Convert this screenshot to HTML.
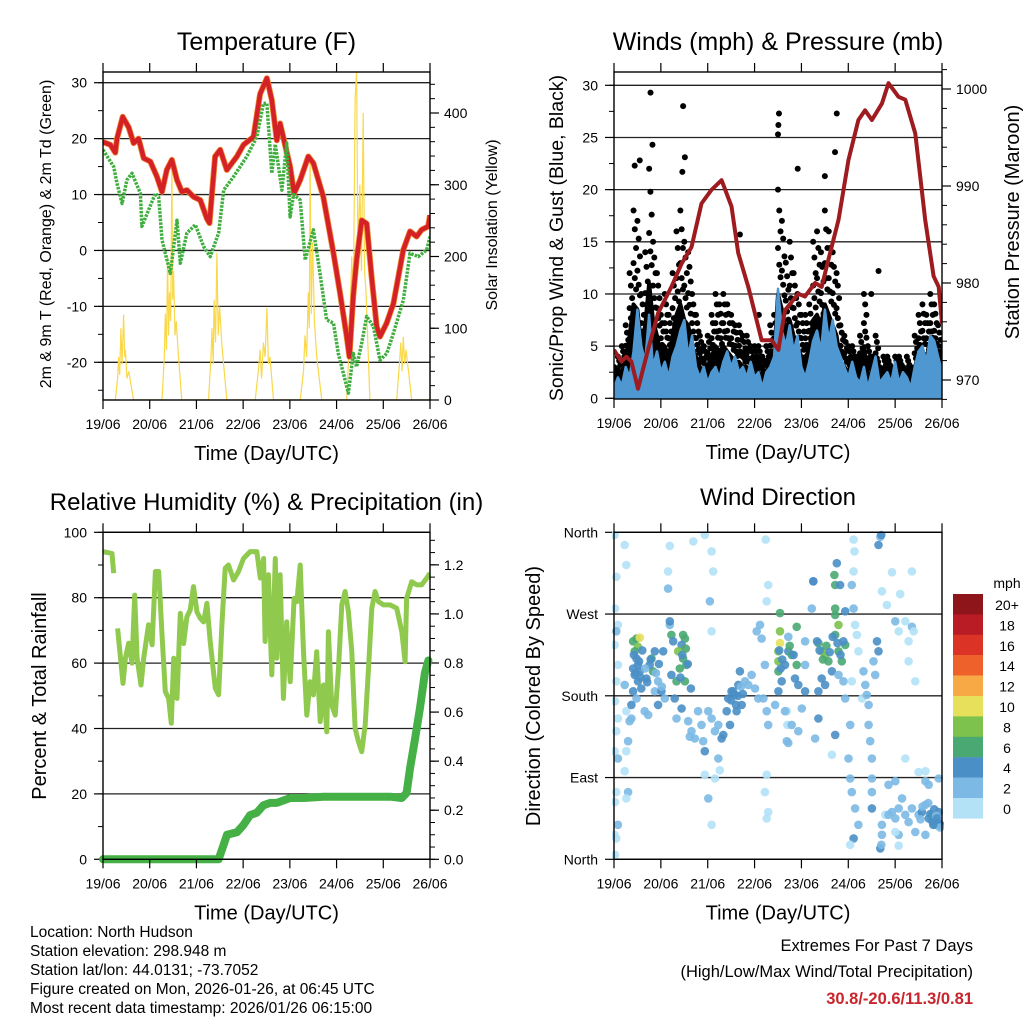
<!DOCTYPE html>
<html><head><meta charset="utf-8"><title>Station Meteogram</title>
<style>
html,body{margin:0;padding:0;background:#fff;}
svg{display:block;font-family:"Liberation Sans",Arial,sans-serif;}
</style></head>
<body>
<svg id="chart" width="1024" height="1024" viewBox="0 0 1024 1024" xmlns="http://www.w3.org/2000/svg">
<rect x="0" y="0" width="1024" height="1024" fill="#fff"/>
<g id="p1"></g>
<g id="p2"></g>
<g id="p3"></g>
<g id="p4"></g>
<g font-size="15.5" fill="#000">
<text x="30" y="937">Location: North Hudson</text>
<text x="30" y="956">Station elevation: 298.948 m</text>
<text x="30" y="975">Station lat/lon: 44.0131; -73.7052</text>
<text x="30" y="994">Figure created on Mon, 2026-01-26, at 06:45 UTC</text>
<text x="30" y="1013">Most recent data timestamp: 2026/01/26 06:15:00</text>
</g>
<g text-anchor="end">
<text x="973" y="951" font-size="16.5">Extremes For Past 7 Days</text>
<text x="973" y="977" font-size="16.5">(High/Low/Max Wind/Total Precipitation)</text>
<text x="973" y="1004" font-size="16.5" font-weight="bold" fill="#c9252c">30.8/-20.6/11.3/0.81</text>
</g>
</svg>
<script>
// ---------- DATA ----------
const dayLabels = ["19/06","20/06","21/06","22/06","23/06","24/06","25/06","26/06"];
// Temperature (F)
const tempHours = [0,3.8,6.3,7.2,10.1,13.2,15.7,18.3,20.9,24.3,27.7,30.3,32.8,35.4,38,40.5,43.1,46.5,50,53.4,54.7,57.6,60.2,63.6,68.8,72.2,77.3,80.7,84.2,86.7,89.3,91,96.1,98.2,101.3,105.5,108.1,113.2,118.4,121.8,125.2,126.6,128.6,130.3,132.9,135.5,138,140.6,142.3,145.7,149.2,154.3,157.7,161.1,163.7,167.1,168];
const tempValues = [19.4,18.9,17.5,20,23.9,22,19.2,20,16.5,15.9,13.2,10.5,14.4,16.2,12.6,10.5,10.8,9.6,9,5.7,4.9,16.8,18,14.4,16.8,18.9,20.3,28,30.8,26.9,19.7,22.7,15,10.2,12.6,16.8,15.6,9.6,-0.5,-7.7,-15.4,-19,-8,-1.7,5.4,4.8,-4.7,-13.6,-15.4,-13,-9.5,0.1,3.4,2.5,3.7,4.3,6.3];
const dewHours = [0,5.5,7.2,9.8,12.3,14.9,19.2,20,23.4,26.9,28.6,30.3,34.6,38,39.7,43.1,47.4,51.7,55.1,59.4,62.0,67.1,73.9,79,82.4,84.2,86.7,88.5,91.9,94.4,96.1,97.9,101.3,103.9,108.1,111.5,114.9,118.4,120.9,126.1,128.6,130.3,132.9,135.5,138.9,142.3,145.8,149.2,154.3,157.7,162.0,166.3,168];
const dewValues = [18,15,12,8.4,12.6,13.8,10.2,4.3,7.2,10.2,9.5,1.9,-4.1,5.4,-2.3,3.1,4.6,0.7,-1.1,3.1,10.8,13.2,16.8,20.3,26.3,26.3,13.8,19,10.8,19.2,6,10,9,-1.7,3.7,-4.1,-12.4,-13,-18.4,-25.5,-18.4,-20.8,-16.6,-11.8,-13.6,-19.6,-18.4,-14.8,-8.9,-0.5,-1.1,0.1,2.5];
// Solar insolation (W/m2)
const solarHours = [0,6.3,7.5,8,8.6,9.2,9.8,10.6,11.1,11.5,12.3,13.2,15.7,30.3,31.5,32,32.6,33.2,33.7,34.2,34.8,35.4,35.8,36.2,37,37.6,38.8,40.5,54.2,55.5,56,56.6,57.1,57.8,58.5,59.2,59.9,61,63.6,78.2,79.8,80.7,81.5,82.4,83.3,84.2,85,85.8,87.6,101.3,103,103.8,104.6,105.5,106,106.4,107,107.7,108.6,109.8,112.4,125.2,126.5,127.8,128.6,129.5,130.3,131,132,132.8,133.7,134.4,135.1,137.1,150.9,152.3,153,153.6,154.3,155,155.7,158.6,168];
const solarValues = [0,0,30,60,35,100,50,119,60,70,30,40,0,0,60,120,70,200,90,150,110,325,140,180,90,110,60,0,0,60,100,50,140,80,205,90,130,80,0,0,40,70,30,80,60,128,50,60,0,0,40,90,60,150,100,335,120,220,110,60,0,0,80,200,120,420,458,200,300,180,400,180,150,0,0,50,80,40,88,50,70,0,0];
// Winds (every 2 h)
const windHours = [0,2,4,6,8,10,12,14,16,18,20,22,24,26,28,30,32,34,36,38,40,42,44,46,48,50,52,54,56,58,60,62,64,66,68,70,72,74,76,78,80,82,84,86,88,90,92,94,96,98,100,102,104,106,108,110,112,114,116,118,120,122,124,126,128,130,132,134,136,138,140,142,144,146,148,150,152,154,156,158,160,162,164,166,168];
const windSpeed = [1,2,1.2,3,2,4.5,8.5,5,3.5,8,3,4.5,2.5,3.5,2,4,5,6.5,7.5,4,6,3,2,3,1.5,2.5,3,2,3.5,4.5,3,4,2.5,3,2,3.5,2,2.5,1,2.5,3,4,10.5,6.5,5,7,4.5,6,3,2,3.5,5.5,6.5,4.5,8.5,5.5,7.5,5,4,3,2,3.5,2,1.5,3,1,2.5,4,1.5,2,2.5,1.5,3.5,1.5,2.5,2,1,3,4.5,5,3.5,6,5.5,4,2.5];
const windGust = [3,4,5,7,12,18,17,10,14,22,15,12,8,10,8,12,16,18,15,14,10,8,6,5,6,8,10,9,10,9,8,7,7,6,6,5,5,5,4,5,7,8,20,17,13,15,12,10,8,8,9,15,16,14,18,16,14,12,7,6,5,5,4,6,10,5,4,6,3,4,4,3,4,4,3,4,3,6,8,9,8,10,9,7,5];
const gustOutHours = [18.7,35.4,19.7,36.3,84.5,84.2,84.0,114.1,113.2,94.1,108,10.6,13.2,135.5,131.8,64.5,74.2,35];
const gustOutValues = [29.3,28,24.3,23.1,27.3,26.2,25.3,27.3,23.6,22,21.3,22.3,22.8,12.2,10,15.7,8,21.7];
// Pressure (mb)
const presHours = [0,3.8,6.3,8.9,12.3,17.4,22.6,29.4,34.6,39.7,44.8,49.9,55.1,60.2,63.6,68.8,75.6,80.7,84.2,87.6,94.4,97.8,103,106.4,109.8,115,120.1,125.2,128.6,132.1,137.2,140.6,145.7,149.2,154.3,159.4,163.7,166.3,168];
const presValues = [973.1,971.9,972.4,971.9,969.1,973.1,976.9,979.6,982,983.7,988.2,989.6,990.6,987.9,983.1,979.6,974.1,974.1,973.1,977.2,978.9,978.6,980,979.6,982.4,986.5,992.7,996.8,997.8,996.8,998.5,1000.6,999.2,998.9,995.4,986.5,980.7,979.6,975.8];
// Relative humidity (%)
const rhHours = [0,4.6,5.5,null,7.5,10.3,11.5,13.2,14.9,16.3,17.5,19.5,20.9,23.4,25.2,26.9,28.6,30.3,32,33.7,35.1,36.3,38,39.7,41.4,43.1,44.8,46.5,48.3,50,51.7,53.4,55.1,57.7,59.4,61.1,62.8,64.5,67.1,69.6,72.2,75.6,79,80.8,82.5,83.3,85,86.7,88.5,89.3,91,92.7,94.4,96.2,98.2,99.6,101.3,103,104.7,106.4,108.1,109.8,111.6,113.3,115,115.8,117.5,119.3,121,122.7,124.4,126.1,127.8,129.5,131.2,132.9,134.7,136.4,138.1,139.8,141.5,144.1,147.5,150.9,153.5,155.2,156,158.6,161.2,163.7,166.3,168];
const rhValues = [94.1,93.5,87.5,null,70.6,53.8,61.5,66.1,60,80.8,61.5,53.3,61.5,71.7,65.6,88,88,68.8,51.3,49.2,41.6,61.5,49.2,75.2,66,74.2,76.2,83.4,75.6,73.7,72.6,78.3,66.6,52.3,50.3,71.7,89,90,85.4,88,92,94.1,94.1,86,92,66.6,87,56.4,92,61.5,87,49.2,72.6,54.3,79.8,78.8,90,63.5,44.1,54.3,50.3,63.5,42.1,53.3,39,69.6,47.2,44.1,58.4,77.8,81.9,75.8,63.5,40.1,36,32.9,41.1,58.4,76.8,81.9,78.8,77.8,77.8,76.8,69.6,60.4,79.8,84.9,83.9,83.9,86,87.5];
// Precipitation (in)
const pcpHours = [0,59.4,62,63.7,68.8,72.2,75.6,79,82.4,85.9,89.3,96.2,103,113.3,147.5,153.5,156,157.7,160.3,162.9,165.4,167.2];
const pcpValues = [0,0,0.06,0.1,0.11,0.14,0.18,0.19,0.22,0.23,0.23,0.25,0.25,0.255,0.255,0.25,0.27,0.37,0.49,0.62,0.76,0.81];
// Wind direction points: hour, direction (deg), speed (mph)
const dirHours = [0.3,1.2,0.5,2,1.2,0.3,2,1.2,0.5,2,1.2,0.3,2,1.2,0.5,2,0.3,1.2,0.5,
5.5,6.3,5.5,6.3,7.2,6.3,5.5,7.2,6.3,
9.8,11.5,13.2,12.3,10.6,11.5,12.3,9.8,10.6,12.3,14,9.8,11.5,8.9,13.2,8.9,8,
19.2,20,18.3,20.9,16.6,22.6,20.9,15.7,17.5,22.6,24.3,26,25.2,
28.6,27.7,27.7,28.6,29.4,35.4,36.3,34.6,32.9,35.4,37.1,33.7,32,36.3,39.4,31.1,34.6,32,38,39.7,41.4,38.8,28.6,30.3,29.4,40.6,46.5,
43.1,44.8,45.7,46.5,48.3,50,51.7,53.4,55.1,56,46.5,48.3,50,50,50.8,49.1,50,53.4,54.2,51.7,
57.7,58.5,60.2,61.9,63.7,64.5,67.1,68.8,70.5,72.2,73.9,65.4,62.8,59.4,73.1,74.8,75.6,77.3,76.5,78.2,79,78.2,77.3,79,78.2,77.7,79,78.2,
85,85,85,84.2,84.2,84.2,85.9,84.2,87.6,89.3,91,93.6,93.6,92.7,94.4,89.3,97.9,88.5,88.8,89.3,82.5,87.6,91,97.9,96.2,88.5,94.4,101.3,102.1,97.9,104.7,
104.7,106.4,108.1,109.8,113.3,113.3,115,113.3,115,116.7,118.4,112.9,113.3,114.1,117.5,106.4,108.1,111.6,104.7,115,117.5,118.4,103,111.6,113.3,115.8,118.4,102.1,
122.7,123.2,122.7,121.8,122.7,123.5,124.4,125.2,121.8,121,120.1,121,121.8,123.5,122.7,125.2,121,127,127.8,128.7,129.5,130.4,130.4,131.2,132.1,132.1,132.1,132.1,132.9,133.8,134.7,135.5,135.5,136.4,136.9,136.4,136.9,137.2,137.2,138.9,137.2,139.8,
140.6,142.4,144.1,145.8,147.5,149.2,150.9,152.6,156,157.7,159.5,161.2,162.9,163.7,164.6,166.3,167.2,166.3,159.5,154.3,145.8,144.1,145.8,149.2,150.9,152.6,153.5,154.3,150.9,152.6,146.6,142.4,144.1,145.8,149.2,159.5,161.2,140.6,144.1,159.5,156,
10.2,11,12.8,13.6,14.5,16,17,18.8,21.5,23,24.5,34,35,36.8,37.8,60,61,62.5,63.5,65,66,84.6,85.4,86.2,90,92,104,105.3,107,108.8,110.5,112,114.5,116,162,163,164,165,166,167,161,163.5,165.5,158,157];
const dirDegrees = [357,311,276,258,251,236,214,196,174,155,141,119,111,74,63,38,27,23,5,
346,324,192,163,130,119,97,74,67,
240,243,244,234,229,221,214,210,203,196,188,185,177,170,207,155,152,
221,207,214,229,199,196,185,163,159,170,185,177,229,
345,317,298,258,247,247,243,236,229,221,214,210,196,196,188,177,166,155,152,141,133,135,262,240,203,350,357,
163,148,130,119,163,155,141,148,133,137,93,67,38,339,317,284,251,111,98,89,
163,177,185,181,192,207,196,192,203,188,177,170,163,148,251,258,243,214,177,163,148,93,74,52,45,352,302,284,
271,251,238,229,218,207,196,185,214,229,225,256,214,199,192,245,240,163,148,128,170,163,148,185,166,130,141,276,306,214,155,
238,229,225,218,276,269,258,247,229,218,236,313,302,326,240,199,192,207,185,203,196,177,133,115,137,302,273,306,
352,339,317,302,276,258,247,229,196,148,111,89,74,56,23,38,16,177,207,192,181,170,148,130,111,89,74,56,218,203,240,229,346,355,357,12,16,27,38,49,295,280,
49,52,45,56,67,49,41,56,49,52,60,45,49,45,38,52,38,89,27,30,27,262,251,262,240,256,251,196,218,317,292,316,30,15,111,86,82,82,86,97,96,
225,205,218,200,230,210,195,220,205,215,190,200,225,232,215,175,185,170,180,190,182,230,210,220,235,225,240,230,220,235,228,245,238,225,50,42,55,48,40,35,62,38,45,58,44];
const dirSpeeds = [1,1,1,1,2,1,1,1,1,1,1,1,2,1,1,2,1,1,1,
1,1,2,1,2,1,1,2,1,
7,7,10,8,7,5,4,4,4,4,4,4,3,4,5,2,2,
7,7,5,4,4,3,3,3,3,4,4,3,4,
1,1,3,3,6,7,6,5,8,6,6,6,6,7,4,4,4,3,3,3,2,3,4,4,4,1,1,
3,3,3,4,2,3,3,3,4,4,1,3,1,1,1,2,1,2,1,1,
4,4,4,4,4,5,3,3,3,3,3,4,4,4,3,2,3,2,3,3,2,1,1,1,1,1,1,1,
6,8,10,8,8,6,5,4,5,5,6,6,6,4,4,3,3,1,1,2,3,3,2,4,3,2,2,2,4,3,4,
6,8,8,7,7,7,8,7,6,6,6,6,6,4,4,4,4,4,4,3,3,3,2,1,4,4,4,4,
1,1,1,2,2,1,1,1,1,2,2,2,3,2,4,2,1,1,2,2,3,2,2,3,3,3,2,4,3,2,5,4,4,2,4,4,3,2,2,1,1,1,
3,2,3,2,3,2,3,2,3,4,3,4,6,6,6,4,4,3,3,3,2,2,1,1,1,3,1,1,1,1,1,1,1,1,1,3,3,2,2,1,1,
4,4,4,5,4,3,4,4,3,4,3,5,5,6,4,4,4,5,4,3,4,5,5,4,6,5,5,5,6,6,5,5,5,4,5,4,4,3,4,3,3,4,5,3,3];
const cbLabels = ["20+","18","16","14","12","10","8","6","4","2","0"];
const cbColors = ["#8e151a","#b91c24","#dc3327","#ef612b","#f6a945","#e6e05a","#7cc24c","#4aa872","#4a8fc6","#7cb9e4","#b3e2f7"];

// ---------- HELPERS ----------
const NS = "http://www.w3.org/2000/svg";
function mk(parent, tag, attrs){
  const e = document.createElementNS(NS, tag);
  for (const k in attrs) e.setAttribute(k, attrs[k]);
  parent.appendChild(e);
  return e;
}
function txt(parent, x, y, s, size, anchor, extra){
  const t = mk(parent, "text", Object.assign({x:x, y:y, "font-size":size, "text-anchor":anchor||"middle", fill:"#000"}, extra||{}));
  t.textContent = s;
  return t;
}
function lin(a0,a1,b0,b1){ return v => b0 + (v-a0)*(b1-b0)/(a1-a0); }
function pathFrom(xs, ys, fx, fy){
  let d = "", pen = false;
  for (let i=0;i<xs.length;i++){
    if (xs[i]===null || ys[i]===null){ pen=false; continue; }
    d += (pen?"L":"M") + fx(xs[i]).toFixed(1) + "," + fy(ys[i]).toFixed(1);
    pen = true;
  }
  return d;
}

function frame(g, L, R, T, B, xs, prefix){
  for (let i=0;i<8;i++){
    const x = xs(i*24);
    const tk = mk(g,"line",{x1:x,x2:x,y1:T-9,y2:T,stroke:"#000","stroke-width":1.2});
    
    
    const tb = mk(g,"line",{x1:x,x2:x,y1:B,y2:B+9,stroke:"#000","stroke-width":1.2});
    
    
    const lb = txt(g, x, B+29, dayLabels[i], 14);
    
    
  }
  const r = mk(g,"rect",{x:L,y:T,width:R-L,height:B-T,fill:"none",stroke:"#000","stroke-width":1.4});
  
  
  const xt = txt(g,(L+R)/2,B+60,"Time (Day/UTC)",20);
  
  
}
function yAxis(g, L, R, ticks, labels, fy, side, minor, prefix, grid){
  for (let i=0;i<ticks.length;i++){
    const y = fy(ticks[i]);
    if (grid){
      const gl = mk(g,"line",{x1:L,x2:R,y1:y,y2:y,stroke:"#222","stroke-width":1.3});
      
      
    }
    const x = side==="left"?L:R;
    const dx = side==="left"?-9:9;
    const tk = mk(g,"line",{x1:x,x2:x+dx,y1:y,y2:y,stroke:"#000","stroke-width":1.2});
    
    
    const lb = txt(g, side==="left"?L-16:R+14, y+5, labels[i], 14, side==="left"?"end":"start");
    
    
  }
  if (minor){
    for (const v of minor){
      const y = fy(v);
      const x = side==="left"?L:R;
      const dx = side==="left"?-5:5;
      const tk = mk(g,"line",{x1:x,x2:x+dx,y1:y,y2:y,stroke:"#000","stroke-width":1});
      
      
    }
  }
}
function rotLabel(g, x, y, s, size, name){
  const t = txt(g, x, y, s, size, "middle", {transform:"rotate(-90 "+x+" "+y+")"});
  
  
}
function range(a,b,s){ const r=[]; for(let v=a; v<=b+1e-9; v+=s) r.push(+v.toFixed(3)); return r; }

// ---------- PANEL 1 : Temperature ----------
(function(){
  const g = document.getElementById("p1");
  const L=103,R=430,T=72,B=400;
  const fx = lin(0,168,L,R), fy = lin(-20,30,362.3,82.7), fs = lin(0,400,400,113);
  const t = txt(g,(L+R)/2,50,"Temperature (F)",25);
  
  
  const cp = mk(g,"clipPath",{id:"c1"}); mk(cp,"rect",{x:L,y:T,width:R-L,height:B-T});
  yAxis(g,L,R,[-20,-10,0,10,20,30],["-20","-10","0","10","20","30"],fy,"left",range(-25,30,5),"temp-y",true);
  yAxis(g,L,R,[0,100,200,300,400],["0","100","200","300","400"],fs,"right",range(0,440,20),"solar-y",false);
  const sol = mk(g,"path",{d:pathFrom(solarHours,solarValues,fx,fs),fill:"none",stroke:"#f9d84a","stroke-width":1.2,"clip-path":"url(#c1)"});
  
  
  const o = mk(g,"path",{d:pathFrom(tempHours,tempValues,fx,fy),fill:"none",stroke:"#f08a32","stroke-width":6,"stroke-linejoin":"round","clip-path":"url(#c1)"});
  
  
  const r = mk(g,"path",{d:pathFrom(tempHours,tempValues,fx,fy),fill:"none",stroke:"#d42127","stroke-width":4.5,"stroke-linejoin":"round","clip-path":"url(#c1)"});
  
  
  const d = mk(g,"path",{d:pathFrom(dewHours,dewValues,fx,fy),fill:"none",stroke:"#3fae3f","stroke-width":3.5,"stroke-dasharray":"2.5 1.2","stroke-linejoin":"round","clip-path":"url(#c1)"});
  
  
  frame(g,L,R,T,B,fx,"temp");
  rotLabel(g,51,234,"2m & 9m T (Red, Orange) & 2m Td (Green)",16,"temp-y-axis-title");
  rotLabel(g,497,225,"Solar Insolation (Yellow)",16,"solar-y-axis-title");
})();

// ---------- PANEL 2 : Winds & Pressure ----------
(function(){
  const g = document.getElementById("p2");
  const L=614,R=942,T=72,B=399;
  const fx = lin(0,168,L,R), fy = lin(0,30,398.3,85.3), fp = lin(970,1000,380,89);
  const t = txt(g,(L+R)/2,50,"Winds (mph) & Pressure (mb)",25);
  
  
  mk(mk(g,"clipPath",{id:"c2"}),"rect",{x:L,y:T,width:R-L,height:B-T});
  yAxis(g,L,R,[0,5,10,15,20,25,30],["0","5","10","15","20","25","30"],fy,"left",range(0,30,2.5),"wind-y",true);
  yAxis(g,L,R,[970,980,990,1000],["970","980","990","1000"],fp,"right",range(968,1002,2),"pressure-y",false);
  const cg = mk(g,"g",{"clip-path":"url(#c2)"});
  const coreX = windHours.concat(windHours.slice().reverse());
  const coreY = windGust.map(v=>v*0.5).concat(windHours.map(()=>0));
  const ga = mk(cg,"path",{d:pathFrom(coreX,coreY,fx,fy)+"Z",fill:"#000",stroke:"#000","stroke-width":4,"stroke-linejoin":"round"});
  
  
  const fracs = [1,0.9,0.8,0.72,0.64,0.58];
  for (let i=0;i<windHours.length;i++){
    for (let k=0;k<fracs.length;k++){
      const c = mk(cg,"circle",{cx:fx(windHours[i]+(k%3)*0.65),cy:fy(windGust[i]*fracs[k]),r:3,fill:"#000"});
      
      
    }
  }
  for (let i=0;i<gustOutHours.length;i++){
    const c = mk(cg,"circle",{cx:fx(gustOutHours[i]),cy:fy(gustOutValues[i]),r:3,fill:"#000"});
    
    
  }
  const bx = windHours.concat(windHours.slice().reverse());
  const by = windSpeed.concat(windHours.map(()=>0));
  const ba = mk(cg,"path",{d:pathFrom(bx,by,fx,fy)+"Z",fill:"#4f97d0",stroke:"#4f97d0","stroke-width":2.5,"stroke-linejoin":"round"});
  
  
  const pl = mk(cg,"path",{d:pathFrom(presHours,presValues,fx,fp),fill:"none",stroke:"#9e1b1f","stroke-width":4,"stroke-linejoin":"round"});
  
  
  frame(g,L,R,T,B,fx,"wind");
  rotLabel(g,563,238,"Sonic/Prop Wind & Gust (Blue, Black)",19.5,"wind-y-axis-title");
  rotLabel(g,1019,222,"Station Pressure (Maroon)",20,"pressure-y-axis-title");
})();

// ---------- PANEL 3 : RH & Precip ----------
(function(){
  const g = document.getElementById("p3");
  const L=103,R=430,T=532.3,B=859.3;
  const fx = lin(0,168,L,R), fy = lin(0,100,B,T), fr = lin(0,0.8,B,663);
  const t = txt(g,(L+R)/2,510,"Relative Humidity (%) & Precipitation (in)",24);
  
  
  mk(mk(g,"clipPath",{id:"c3"}),"rect",{x:L,y:T,width:R-L,height:B-T});
  yAxis(g,L,R,[0,20,40,60,80,100],["0","20","40","60","80","100"],fy,"left",range(0,100,10),"rh-y",true);
  yAxis(g,L,R,[0,0.2,0.4,0.6,0.8,1.0,1.2],["0.0","0.2","0.4","0.6","0.8","1.0","1.2"],fr,"right",range(0,1.3,0.05),"precip-y",false);
  const rl = mk(g,"path",{d:pathFrom(rhHours,rhValues,fx,fy),fill:"none",stroke:"#8fca4e","stroke-width":5,"stroke-linejoin":"round","clip-path":"url(#c3)"});
  
  
  const pl = mk(g,"path",{d:pathFrom(pcpHours,pcpValues,fx,fr),fill:"none",stroke:"#44b045","stroke-width":8,"stroke-linejoin":"round","stroke-linecap":"round"});
  
  
  frame(g,L,R,T,B,fx,"rh");
  rotLabel(g,46,696,"Percent & Total Rainfall",20,"rh-y-axis-title");
})();

// ---------- PANEL 4 : Wind Direction ----------
(function(){
  const g = document.getElementById("p4");
  const L=614,R=942,T=532.3,B=859.3;
  const fx = lin(0,168,L,R), fy = lin(0,360,B,T);
  const t = txt(g,(L+R)/2,505,"Wind Direction",24);
  
  
  mk(mk(g,"clipPath",{id:"c4"}),"rect",{x:L-2,y:T-4,width:R-L+4,height:B-T+8});
  yAxis(g,L,R,[0,90,180,270,360],["North","East","South","West","North"],fy,"left",null,"dir-y",true);
  const cg = mk(g,"g",{"clip-path":"url(#c4)"});
  for (let i=0;i<dirHours.length;i++){
    const bin = Math.min(10, Math.floor(dirSpeeds[i]/2));
    const c = mk(cg,"circle",{cx:fx(dirHours[i]).toFixed(1),cy:fy(dirDegrees[i]).toFixed(1),r:4.3,fill:cbColors[10-bin],"fill-opacity":0.9});
    
    
  }
  frame(g,L,R,T,B,fx,"dir");
  rotLabel(g,540,696,"Direction (Colored By Speed)",20,"dir-y-axis-title");
  const cb = mk(g,"g",{});
  
  
  const u = txt(cb,1007,588,"mph",14);
  
  
  for (let i=0;i<cbLabels.length;i++){
    const y = 594 + i*20.4;
    const r = mk(cb,"rect",{x:953,y:y,width:30,height:20.6,fill:cbColors[i]});
    
    
    const l = txt(cb,1007,y+16,cbLabels[i],14);
    
    
  }
})();
</script>
</body></html>
